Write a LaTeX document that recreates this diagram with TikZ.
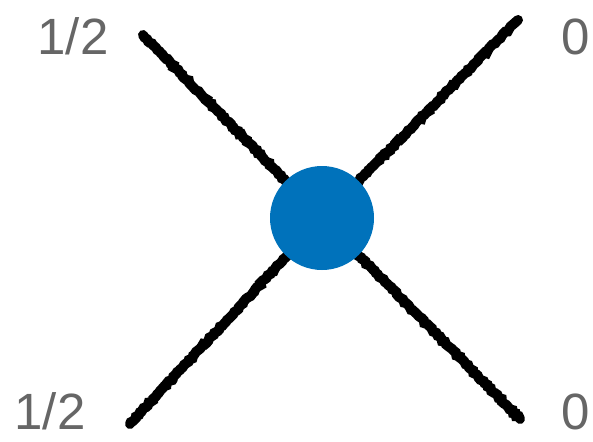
\documentclass[tikz,border=0pt]{standalone}
\usepackage{fontspec}
\setmainfont{Liberation Sans}
\usetikzlibrary{decorations.pathmorphing}
\definecolor{mblue}{RGB}{0,114,187}
\definecolor{lbl}{RGB}{102,102,102}
\begin{document}
\begin{tikzpicture}[x=1pt,y=-1pt,
  sketch/.style={line width=10pt,black,line cap=round,
    decorate,decoration={random steps,segment length=2.5pt,amplitude=1pt}},
  lab/.style={text=lbl,font=\fontsize{51}{60}\selectfont,inner sep=0pt,anchor=base},
  dot/.style={circle,fill=mblue,minimum size=104pt,inner sep=0pt}]
\useasboundingbox (0,0) rectangle (593,441);
\coordinate (tl) at (143,35);
\coordinate (tr) at (518,20);
\coordinate (bl) at (130,424);
\coordinate (br) at (520,419);
\coordinate (c) at (322,218);
\draw[sketch] (tl) -- (c);
\draw[sketch] (tr) -- (c);
\draw[sketch] (bl) -- (c);
\draw[sketch] (br) -- (c);
\node[dot] (v) at (c) {};
\node[lab] (ltl) at (73,55) {1/2};
\node[lab] (lbl) at (50,429) {1/2};
\node[lab] (ltr) at (576,55) {0};
\node[lab] (lbr) at (576,429) {0};
\end{tikzpicture}
\end{document}
